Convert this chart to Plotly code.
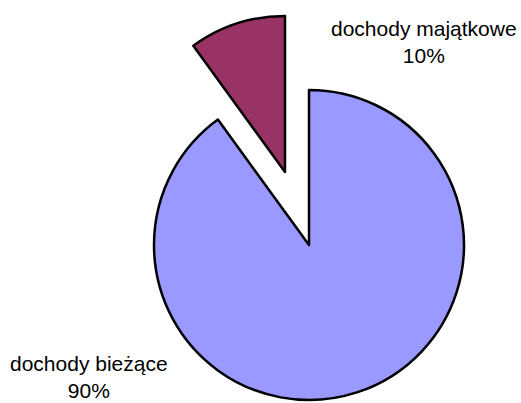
import plotly.graph_objects as go

categories = ["dochody bieżące", "dochody majątkowe"]
values = [90, 10]
percent_labels = ["90%", "10%"]
colors = ["#9999FF", "#993366"]

W, H = 521, 403

def dom(cx, cy, r):
    return dict(x=[(cx - r) / W, (cx + r) / W], y=[1 - (cy + r) / H, 1 - (cy - r) / H])

fig = go.Figure()
# big slice (bieżące) — main pie position
fig.add_trace(go.Pie(
    labels=categories, values=values, sort=False, direction="clockwise", rotation=0,
    marker=dict(colors=[colors[0], "rgba(0,0,0,0)"], line=dict(color="black", width=[2.5, 0])),
    textinfo="none", hoverinfo="skip", showlegend=False, domain=dom(309, 245, 155)))
# exploded slice (majątkowe)
fig.add_trace(go.Pie(
    labels=categories, values=values, sort=False, direction="clockwise", rotation=0,
    marker=dict(colors=["rgba(0,0,0,0)", colors[1]], line=dict(color="black", width=[0, 2.5])),
    textinfo="none", hoverinfo="skip", showlegend=False, domain=dom(285, 172, 156)))

fig.add_annotation(x=424 / W, y=1 - 42 / H, xref="paper", yref="paper",
                   xanchor="center", yanchor="middle",
                   text=f"{categories[1]}<br>{percent_labels[1]}", showarrow=False,
                   font=dict(family="Liberation Sans, Arial", size=21, color="black"))
fig.add_annotation(x=89 / W, y=1 - 377 / H, xref="paper", yref="paper",
                   xanchor="center", yanchor="middle",
                   text=f"{categories[0]}<br>{percent_labels[0]}", showarrow=False,
                   font=dict(family="Liberation Sans, Arial", size=21, color="black"))

fig.update_layout(width=W, height=H, margin=dict(l=0, r=0, t=0, b=0),
                  paper_bgcolor="white", plot_bgcolor="white")
fig.write_html("out.html", config={"displayModeBar": False},
               post_script="document.body.style.margin='0';")
